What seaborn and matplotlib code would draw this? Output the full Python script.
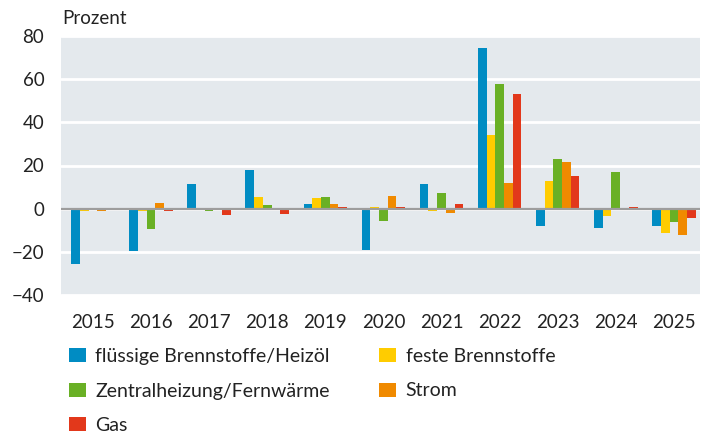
import matplotlib
matplotlib.use("Agg")
import matplotlib.pyplot as plt
import seaborn as sns
import pandas as pd
from matplotlib.patches import Patch

years = ["2015", "2016", "2017", "2018", "2019", "2020", "2021", "2022", "2023", "2024", "2025"]
series_names = ["flüssige Brennstoffe/Heizöl", "feste Brennstoffe",
                "Zentralheizung/Fernwärme", "Strom", "Gas"]
heizoel = [-25.6, -19.4, 11.2, 18.1, 2.3, -19.1, 11.6, 74.4, -7.9, -8.8, -7.9]
feste = [-1.3, -1.3, 0.0, 5.6, 5.1, 0.6, -0.9, 34.0, 13.0, -3.3, -11.2]
zentral = [0.0, -9.3, -0.9, 1.9, 5.6, -5.6, 7.4, 57.7, 22.8, 17.2, -6.0]
strom = [-1.3, 2.8, 0.0, 0.0, 2.3, 6.0, -1.9, 12.1, 21.4, 0.0, -12.1]
gas = [-0.8, -1.2, -2.8, -2.3, 0.9, 0.7, 2.3, 53.0, 15.3, 0.9, -4.2]
colors = ["#008CC3", "#FFCC00", "#69B025", "#F08A00", "#E2381B"]

rows = []
for name, vals in zip(series_names, [heizoel, feste, zentral, strom, gas]):
    for y, v in zip(years, vals):
        rows.append({"Jahr": y, "Serie": name, "Wert": v})
df = pd.DataFrame(rows)

sns.set_style("white")
plt.rcParams["font.family"] = ["Lato", "DejaVu Sans"]

fig = plt.figure(figsize=(7.1, 4.38), dpi=100)
ax = fig.add_axes([61 / 710, (438 - 295) / 438, 639 / 710, 259 / 438])
ax.set_facecolor("#E4E9ED")

sns.barplot(data=df, x="Jahr", y="Wert", hue="Serie", order=years,
            hue_order=series_names, palette=colors, width=0.75,
            saturation=1, errorbar=None, ax=ax, legend=False, zorder=3,
            linewidth=0, edgecolor="none")

ax.set_ylim(-40, 80)
ax.set_yticks([-40, -20, 0, 20, 40, 60, 80])
ax.set_yticklabels(["\u221240", "\u221220", "0", "20", "40", "60", "80"])
ax.set_xlim(-0.55, 10.45)
ax.grid(axis="y", color="white", linewidth=2, zorder=1)
ax.set_axisbelow(True)
ax.axhline(0, color="#9D9D9D", linewidth=1.6, zorder=4)
for s in ax.spines.values():
    s.set_visible(False)
ax.tick_params(axis="both", length=0, labelsize=13.5, colors="#222222")
ax.tick_params(axis="x", pad=14)
ax.tick_params(axis="y", pad=12)
ax.set_xlabel("")
ax.set_ylabel("")
fig.text(62 / 710, 1 - 18 / 438, "Prozent", fontsize=13.5, color="#222222",
         va="center", ha="left")

handles = [Patch(facecolor=c, edgecolor="none") for c in colors]
order = [0, 2, 4, 1, 3]
leg = fig.legend([handles[i] for i in order], [series_names[i] for i in order],
                 loc="upper left", bbox_to_anchor=(69 / 710, 1 - 348 / 438),
                 ncol=2, frameon=False, fontsize=14, handlelength=0.85,
                 handleheight=0.75, handletextpad=0.5, columnspacing=2.55,
                 labelspacing=0.9, borderaxespad=0, borderpad=0)
for t in leg.get_texts():
    t.set_color("#222222")

fig.savefig("out.png", dpi=100)
